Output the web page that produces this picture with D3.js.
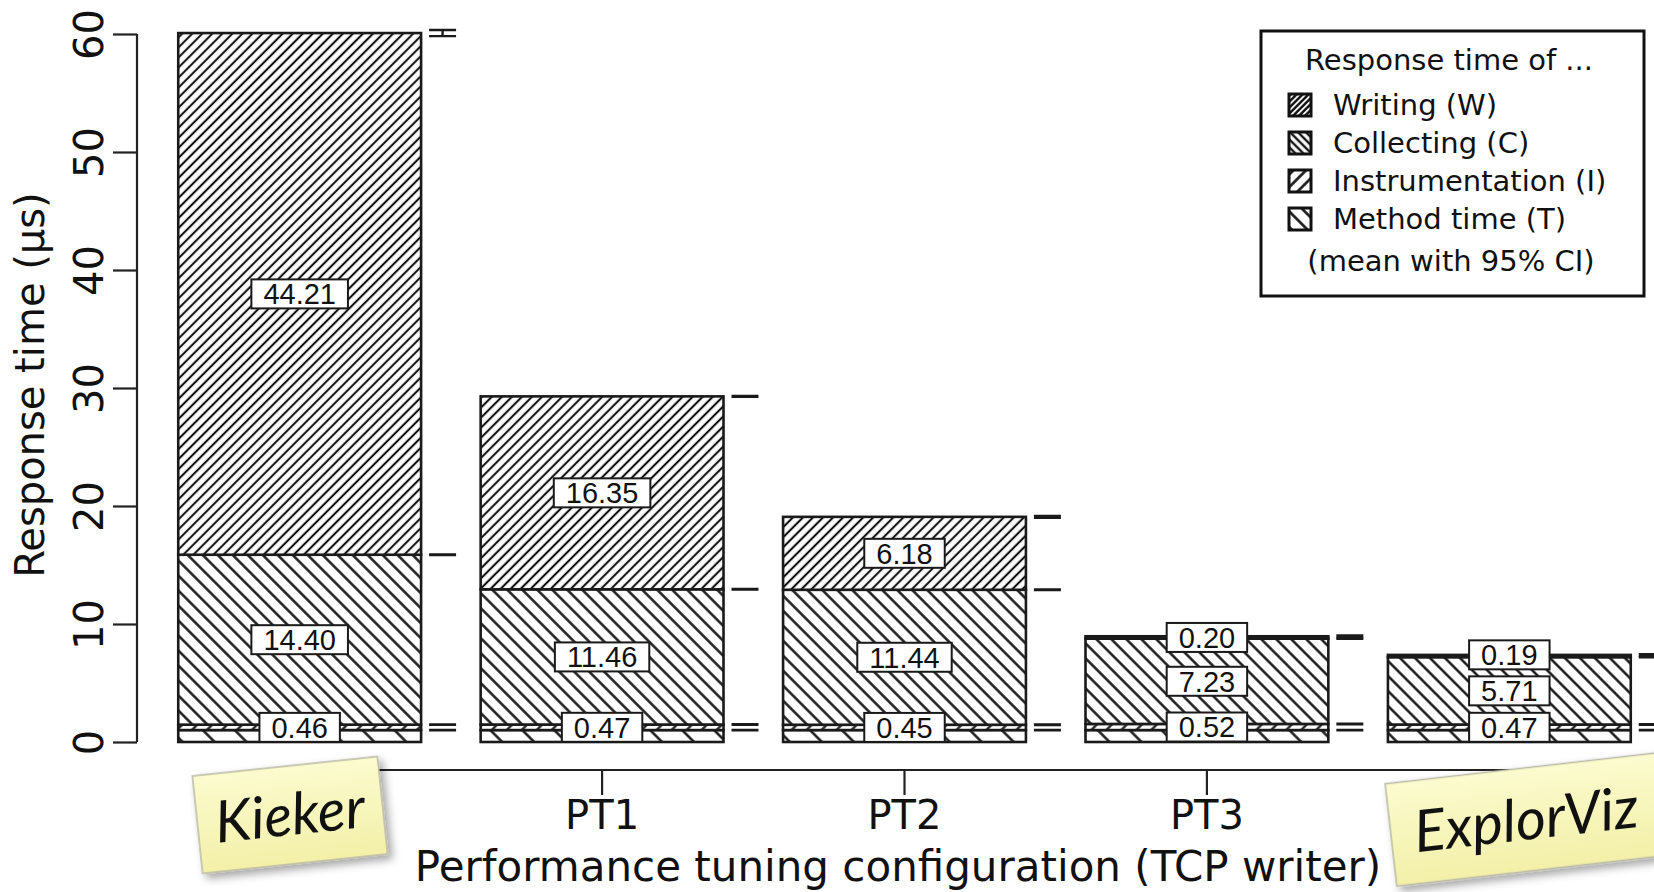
<!DOCTYPE html>
<html>
<head>
<meta charset="utf-8">
<script src="https://cdn.jsdelivr.net/npm/d3@7"></script>
<style>
  body { margin: 0; background: #fff; }
  text { font-family: "DejaVu Sans", sans-serif; fill: #111; }
  .val { font-family: "Liberation Sans", Arial, sans-serif; font-size: 29px; }
</style>
</head>
<body>
<div id="chart"></div>
<script>
// configurations on the x axis
const configs = ["Kieker", "PT1", "PT2", "PT3", "ExplorViz"];
// mean response time parts (µs), bottom to top
const methodTime      = [1.01, 1.01, 1.01, 1.01, 1.01];
const instrumentation = [0.46, 0.47, 0.45, 0.52, 0.47];
const collecting      = [14.40, 11.46, 11.44, 7.23, 5.71];
const writing         = [44.21, 16.35, 6.18, 0.20, 0.19];
// half width of the 95% CI of each cumulative level
const ciMethod  = [0.02, 0.02, 0.02, 0.02, 0.02];
const ciInstr   = [0.02, 0.02, 0.02, 0.02, 0.02];
const ciCollect = [0.03, 0.02, 0.02, 0.02, 0.02];
const ciWrite   = [0.26, 0.03, 0.08, 0.08, 0.07];
const yTicks = [0, 10, 20, 30, 40, 50, 60];
const seriesNames = ["Writing (W)", "Collecting (C)", "Instrumentation (I)", "Method time (T)"];

const width = 1654, height = 892;
const svg = d3.select("#chart").append("svg").attr("width", width).attr("height", height);

const x = d3.scaleBand().domain(configs).range([148, 1661]).paddingInner(0.197).paddingOuter(0.1);
const y = d3.scaleLinear().domain([0, 60]).range([742, 34]);

// hatch patterns
const defs = svg.append("defs");
function hatch(id, gap, angle, sw) {
  const p = defs.append("pattern").attr("id", id)
    .attr("patternUnits", "userSpaceOnUse")
    .attr("width", gap).attr("height", gap)
    .attr("patternTransform", `rotate(${angle})`);
  p.append("rect").attr("width", gap).attr("height", gap).attr("fill", "#fff");
  p.append("line").attr("x1", gap / 2).attr("x2", gap / 2).attr("y1", -1).attr("y2", gap + 1)
    .attr("stroke", "#111").attr("stroke-width", sw);
}
hatch("hW", 7.1, 45, 2.1);
hatch("hC", 10.6, -45, 2.4);
hatch("hI", 10.6, 45, 2.2);
hatch("hT", 22.6, -45, 2.4);
hatch("lW", 4.2, 45, 2.4);
hatch("lC", 5.6, -45, 2.4);
hatch("lI", 9, 45, 2.6);
hatch("lT", 11, -45, 2.6);

const fills = ["url(#hT)", "url(#hI)", "url(#hC)", "url(#hW)"];
const legendFills = ["url(#lW)", "url(#lC)", "url(#lI)", "url(#lT)"];

const rows = configs.map((c, i) => {
  const vals = [methodTime[i], instrumentation[i], collecting[i], writing[i]];
  const cis = [ciMethod[i], ciInstr[i], ciCollect[i], ciWrite[i]];
  let acc = 0;
  const segs = vals.map((v, k) => {
    const s = { config: c, k, v, y0: acc, y1: acc + v, ci: cis[k] };
    acc += v;
    return s;
  });
  return { config: c, segs };
});

// y axis
const yAxis = svg.append("g").attr("transform", "translate(137,0)")
  .call(d3.axisLeft(y).tickValues(yTicks).tickSize(24).tickFormat(d3.format("d")));
yAxis.select(".domain").attr("d", `M0,${y(0)}V${y(60)}`).attr("stroke", "#222").attr("stroke-width", 2.2);
yAxis.selectAll(".tick line").attr("stroke", "#222").attr("stroke-width", 2.2);
yAxis.selectAll(".tick text")
  .attr("transform", "rotate(-90)")
  .attr("x", 0).attr("y", -34).attr("dy", 0)
  .attr("text-anchor", "middle")
  .style("font-size", "40px").style("font-family", "DejaVu Sans").attr("fill", "#111");

svg.append("text")
  .attr("transform", "translate(44,385) rotate(-90)")
  .attr("text-anchor", "middle")
  .style("font-size", "40px")
  .text("Response time (µs)");

// x axis
const xAxis = svg.append("g").attr("transform", "translate(0,770)")
  .call(d3.axisBottom(x).tickSize(25).tickPadding(6));
const xs = configs.map(c => x(c) + x.bandwidth() / 2);
xAxis.select(".domain").attr("d", `M${xs[0]},0H${xs[xs.length - 1]}`).attr("stroke", "#222").attr("stroke-width", 2.2);
xAxis.selectAll(".tick line").attr("stroke", "#222").attr("stroke-width", 2.2);
xAxis.selectAll(".tick text").style("font-size", "40px").style("font-family", "DejaVu Sans").attr("fill", "#111");

svg.append("text")
  .attr("x", 898).attr("y", 881)
  .attr("text-anchor", "middle")
  .style("font-size", "42px")
  .text("Performance tuning configuration (TCP writer)");

// bars
const bars = svg.append("g").selectAll("g").data(rows).enter().append("g");
bars.selectAll("rect").data(d => d.segs).enter().append("rect")
  .attr("x", d => x(d.config))
  .attr("width", x.bandwidth())
  .attr("y", d => y(d.y1))
  .attr("height", d => y(d.y0) - y(d.y1))
  .attr("fill", d => fills[d.k])
  .attr("stroke", "#1a1a1a")
  .attr("stroke-width", 2.6);

// confidence interval markers
bars.selectAll(".ci").data(d => d.segs).enter().append("path")
  .attr("class", "ci")
  .attr("d", d => {
    const x0 = x(d.config) + x.bandwidth() + 8, x1 = x0 + 27, xm = (x0 + x1) / 2;
    const lo = y(d.y1 - d.ci), hi = y(d.y1 + d.ci);
    return `M${x0},${lo}H${x1}M${x0},${hi}H${x1}M${xm},${lo}V${hi}`;
  })
  .attr("fill", "none").attr("stroke", "#1a1a1a").attr("stroke-width", 2.4);

// value labels (instrumentation, collecting, writing), pushed apart when crowded
rows.forEach(r => {
  const cx = x(r.config) + x.bandwidth() / 2;
  let prev = Infinity;
  r.segs.slice(1).forEach(s => {
    let cy = y((s.y0 + s.y1) / 2);
    if (cy > prev - 36) cy = prev - 36;
    prev = cy;
    const g = svg.append("g").attr("transform", `translate(${cx},${cy})`);
    const rect = g.append("rect").attr("fill", "#fff").attr("stroke", "#1a1a1a").attr("stroke-width", 2);
    const t = g.append("text").attr("class", "val").attr("text-anchor", "middle").attr("dy", "0.36em")
      .text(s.v.toFixed(2));
    const w = t.node().getComputedTextLength() + 24;
    rect.attr("x", -w / 2).attr("y", -14.5).attr("width", w).attr("height", 29);
  });
});

// legend
const lg = svg.append("g");
lg.append("rect").attr("x", 1261).attr("y", 31).attr("width", 383).attr("height", 265)
  .attr("fill", "#fff").attr("stroke", "#111").attr("stroke-width", 3);
lg.append("text").attr("x", 1449).attr("y", 70).attr("text-anchor", "middle")
  .style("font-size", "29px").text("Response time of ...");
const items = lg.selectAll(".item").data(seriesNames).enter().append("g")
  .attr("transform", (d, i) => `translate(1289,${105 + i * 38})`);
items.append("rect").attr("x", 0).attr("y", -11).attr("width", 22).attr("height", 22)
  .attr("fill", (d, i) => legendFills[i]).attr("stroke", "#111").attr("stroke-width", 3);
items.append("text").attr("x", 44).attr("y", 10).style("font-size", "29px").text(d => d);
lg.append("text").attr("x", 1451).attr("y", 271).attr("text-anchor", "middle")
  .style("font-size", "29px").text("(mean with 95% CI)");

// sticky notes over Kieker and ExplorViz
const nf = defs.append("filter").attr("id", "shadow").attr("x", "-20%").attr("y", "-20%").attr("width", "150%").attr("height", "150%");
nf.append("feDropShadow").attr("dx", 4).attr("dy", 5).attr("stdDeviation", 4).attr("flood-color", "#000").attr("flood-opacity", 0.35);
const ng = defs.append("linearGradient").attr("id", "noteFill").attr("x1", 0).attr("y1", 0).attr("x2", 0).attr("y2", 1);
ng.append("stop").attr("offset", 0).attr("stop-color", "#fbfbcf");
ng.append("stop").attr("offset", 1).attr("stop-color", "#f3f0a8");

const notes = [
  { label: "Kieker", cx: 290, cy: 815, w: 186, h: 98, rot: -6, tx: 0 },
  { label: "ExplorViz", cx: 1540, cy: 818, w: 300, h: 103, rot: -6.5, tx: -14 }
];
const ng2 = svg.append("g").selectAll("g").data(notes).enter().append("g")
  .attr("transform", d => `translate(${d.cx},${d.cy}) rotate(${d.rot})`);
ng2.append("rect")
  .attr("x", d => -d.w / 2).attr("y", d => -d.h / 2)
  .attr("width", d => d.w).attr("height", d => d.h)
  .attr("fill", "url(#noteFill)").attr("stroke", "#b9b9a4").attr("stroke-width", 1.5)
  .attr("filter", "url(#shadow)");
ng2.append("text")
  .attr("x", d => d.tx).attr("y", 20)
  .attr("text-anchor", "middle")
  .style("font-family", "'Segoe Print', 'Comic Sans MS', Lato, sans-serif")
  .style("font-style", "italic")
  .style("font-size", "58px")
  .attr("fill", "#111")
  .text(d => d.label);
</script>
</body>
</html>
